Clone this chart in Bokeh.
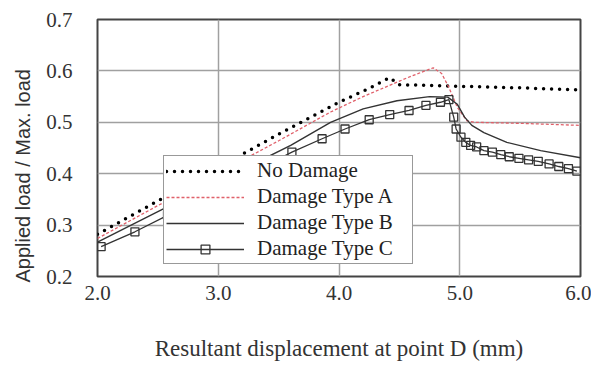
from bokeh.plotting import figure
from bokeh.models import Range1d, FixedTicker, Legend, LegendItem, Title
from bokeh.embed import file_html
from bokeh.resources import INLINE

# ---- data ----
x_none = [2.0, 2.5, 3.0, 3.5, 4.0, 4.25, 4.42, 4.5, 4.7, 5.0, 5.5, 6.0]
y_none = [0.282, 0.347, 0.412, 0.477, 0.539, 0.566, 0.587, 0.573, 0.572, 0.570, 0.567, 0.563]

x_a = [2.0, 2.5, 3.0, 3.5, 3.93, 4.2, 4.45, 4.6, 4.78, 4.85, 4.91, 4.98, 5.06, 5.12, 5.5, 6.0]
y_a = [0.274, 0.338, 0.401, 0.464, 0.520, 0.550, 0.575, 0.590, 0.606, 0.595, 0.568, 0.529, 0.503, 0.500, 0.498, 0.494]

x_b = [2.0, 2.5, 3.0, 3.6, 3.93, 4.2, 4.48, 4.75, 4.9, 4.98, 5.04, 5.1, 5.2, 5.39, 5.67, 6.0]
y_b = [0.267, 0.326, 0.385, 0.455, 0.500, 0.526, 0.542, 0.550, 0.549, 0.535, 0.510, 0.494, 0.480, 0.461, 0.445, 0.431]

x_c = [2.03, 2.31, 2.58, 2.85, 3.12, 3.38, 3.61, 3.86, 4.05, 4.25, 4.42, 4.58, 4.72, 4.84, 4.91,
       4.95, 4.97, 5.01, 5.05, 5.09, 5.14, 5.2, 5.27, 5.34, 5.41, 5.49, 5.57, 5.65, 5.74, 5.82, 5.9, 5.97]
y_c = [0.258, 0.287, 0.319, 0.351, 0.383, 0.414, 0.442, 0.468, 0.487, 0.505, 0.515, 0.523, 0.533, 0.539, 0.544,
       0.510, 0.487, 0.471, 0.461, 0.455, 0.452, 0.445, 0.442, 0.437, 0.433, 0.430, 0.427, 0.424, 0.419, 0.414, 0.410, 0.405]

x_ticks = [2.0, 3.0, 4.0, 5.0, 6.0]
y_ticks = [0.2, 0.3, 0.4, 0.5, 0.6, 0.7]
x_label = "Resultant displacement at point D (mm)"
y_label = "Applied load / Max. load"
names = ["No Damage", "Damage Type A", "Damage Type B", "Damage Type C"]

p = figure(width=591, height=367, output_backend="svg", toolbar_location=None,
           x_range=Range1d(2.0, 6.0), y_range=Range1d(0.2, 0.7),
           min_border_left=97, min_border_right=11, min_border_top=19, min_border_bottom=91)

p.background_fill_color = "white"
p.border_fill_color = "white"
p.outline_line_color = "#444444"
p.outline_line_width = 2

for ax in (p.xaxis[0], p.yaxis[0]):
    ax.axis_line_color = None
    ax.major_tick_line_color = None
    ax.minor_tick_line_color = None
    ax.major_tick_out = 0
    ax.major_tick_in = 0
    ax.major_label_text_font = "Liberation Serif"
    ax.major_label_text_font_size = "21px"
    ax.major_label_text_color = "#333333"

p.xaxis.ticker = FixedTicker(ticks=x_ticks)
p.yaxis.ticker = FixedTicker(ticks=y_ticks)
p.xaxis.major_label_overrides = {t: f"{t:.1f}" for t in x_ticks}
p.yaxis.major_label_overrides = {t: f"{t:.1f}" for t in y_ticks}
p.xaxis.major_label_standoff = 9
p.yaxis.major_label_standoff = 25

p.xaxis.axis_label = x_label
p.xaxis.axis_label_text_font = "Liberation Serif"
p.xaxis.axis_label_text_font_size = "23px"
p.xaxis.axis_label_text_font_style = "normal"
p.xaxis.axis_label_text_color = "#333333"
p.xaxis.axis_label_standoff = 33

p.xgrid.ticker = FixedTicker(ticks=x_ticks)
p.ygrid.ticker = FixedTicker(ticks=y_ticks)
p.grid.grid_line_color = "#a0a0a0"
p.grid.grid_line_width = 1.5

r_none = p.line(x_none, y_none, line_color="black", line_width=3.5, line_dash="0 8", line_cap="round")
r_a = p.line(x_a, y_a, line_color="#e0606a", line_width=1.3, line_dash="3 2")
r_b = p.line(x_b, y_b, line_color="#333333", line_width=1.4)
r_c = p.line(x_c, y_c, line_color="#333333", line_width=1.3)
r_cm = p.scatter(x_c, y_c, marker="square", size=8, line_color="#333333", line_width=1.3,
                 fill_alpha=0)

legend = Legend(items=[LegendItem(label=names[0], renderers=[r_none]),
                       LegendItem(label=names[1], renderers=[r_a]),
                       LegendItem(label=names[2], renderers=[r_b]),
                       LegendItem(label=names[3], renderers=[r_c, r_cm])],
                location=(66, 12))
legend.label_text_font = "Liberation Serif"
legend.label_text_font_size = "21px"
legend.label_text_color = "#222222"
legend.glyph_width = 78
legend.glyph_height = 22
legend.label_height = 22
legend.label_width = 153
legend.label_standoff = 13
legend.spacing = 1
legend.padding = 2
legend.margin = 0
legend.border_line_color = "#333333"
legend.border_line_width = 1.5
legend.background_fill_color = "white"
legend.background_fill_alpha = 1
p.add_layout(legend, "center")

ytitle = Title(text=y_label, align="left", offset=-6, standoff=16, vertical_align="top",
               text_font="Liberation Sans", text_font_size="20px",
               text_font_style="normal", text_color="#333333")
p.add_layout(ytitle, "left")

open("out.html", "w").write(file_html(p, INLINE))
